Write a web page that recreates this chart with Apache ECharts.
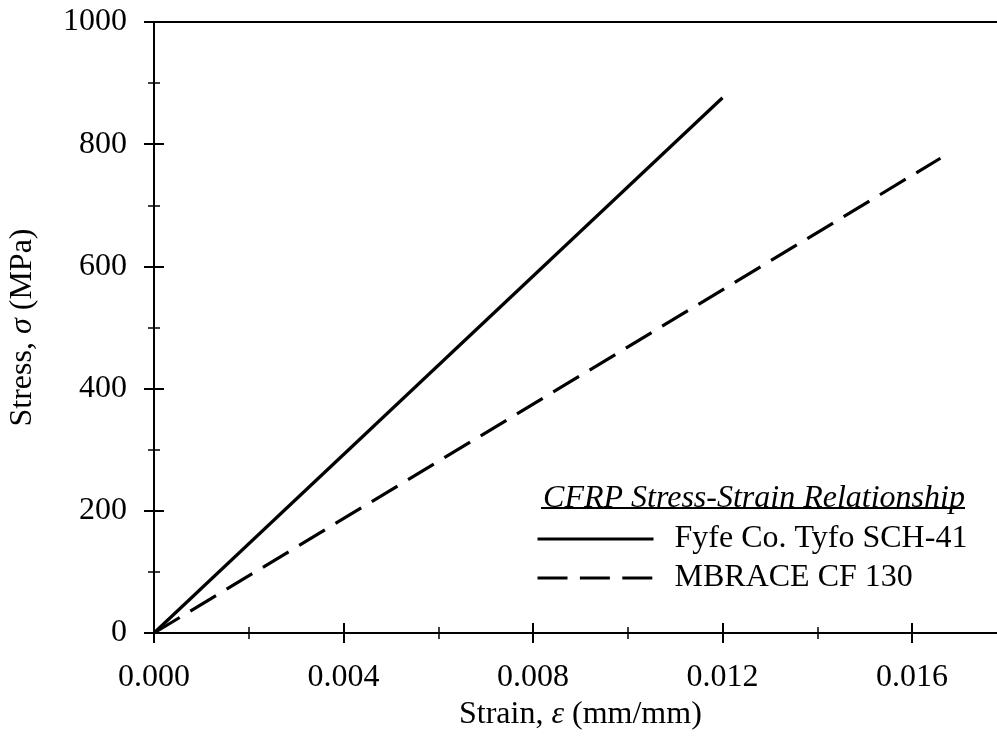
<!DOCTYPE html>
<html>
<head>
<meta charset="utf-8">
<script src="https://cdn.jsdelivr.net/npm/echarts@6/dist/echarts.min.js"></script>
<style>
  html, body { margin: 0; padding: 0; background: #fff; }
  #chart { width: 997px; height: 745px; }
</style>
</head>
<body>
<div id="chart"></div>
<script>
// CFRP material properties: strain (mm/mm) vs stress (MPa), linear to rupture
const seriesNames = ['Fyfe Co. Tyfo SCH-41', 'MBRACE CF 130'];
const fyfeStrain = [0, 0.0120];
const fyfeStress = [0, 876];
const mbraceStrain = [0, 0.0166];
const mbraceStress = [0, 777];
const legendTitle = 'CFRP Stress-Strain Relationship';

const FONT = 'Liberation Serif';
const fs = 32;

const pairs = (xs, ys) => xs.map((x, i) => [x, ys[i]]);

const chart = echarts.init(document.getElementById('chart'));

const xBase = {
  type: 'value', min: 0, max: 0.018, interval: 0.004,
  splitLine: { show: false },
  axisLine: { show: true, lineStyle: { color: '#000', width: 2 } },
  minorTick: { show: true, splitNumber: 2, length: 6, lineStyle: { color: '#000', width: 1.5 } },
  axisTick: { length: 10, lineStyle: { color: '#000', width: 2 } }
};
const yBase = {
  type: 'value', min: 0, max: 1000, interval: 200,
  splitLine: { show: false },
  axisLine: { show: true, lineStyle: { color: '#000', width: 2 } },
  minorTick: { show: true, splitNumber: 2, length: 6, lineStyle: { color: '#000', width: 1.5 } },
  axisTick: { length: 10, lineStyle: { color: '#000', width: 2 } }
};

chart.setOption({
  animation: false,
  backgroundColor: '#fff',
  // plot area runs past the right edge of the canvas (axis ends at 0.018)
  grid: { left: 154, top: 22, height: 611, width: 852.75, outerBoundsMode: 'none', containLabel: false },
  title: {
    text: legendTitle,
    left: 749, top: 478, textAlign: 'center',
    textStyle: { fontFamily: FONT, fontSize: fs, fontStyle: 'italic', fontWeight: 'normal', color: '#000' }
  },
  graphic: [
    { type: 'line', shape: { x1: 541, y1: 508, x2: 965, y2: 508 }, style: { stroke: '#000', lineWidth: 2 } }
  ],
  legend: {
    orient: 'vertical', left: 531, top: 518,
    itemWidth: 116, itemHeight: 14, itemGap: 7,
    itemStyle: { opacity: 0 },
    lineStyle: { width: 3 },
    textStyle: { fontFamily: FONT, fontSize: fs, color: '#000', padding: [0, 0, 0, 16] },
    data: seriesNames
  },
  xAxis: [
    Object.assign({}, xBase, {
      name: '{a|Strain, }{e|ε}{a| (mm/mm)}',
      nameLocation: 'middle', nameGap: 66,
      nameTextStyle: { rich: {
        a: { fontFamily: FONT, fontSize: fs, color: '#000' },
        e: { fontFamily: FONT, fontSize: fs, fontStyle: 'italic', color: '#000' }
      } },
      axisTick: Object.assign({}, xBase.axisTick, { inside: false }),
      axisLabel: { fontFamily: FONT, fontSize: fs, color: '#000', margin: 29,
        showMaxLabel: false, formatter: v => v.toFixed(3) }
    }),
    Object.assign({}, xBase, {
      position: 'bottom', axisLabel: { show: false },
      axisTick: Object.assign({}, xBase.axisTick, { inside: true })
    }),
    { type: 'value', min: 0, max: 0.018, position: 'top',
      axisLine: { show: true, lineStyle: { color: '#000', width: 2 } },
      axisTick: { show: false }, axisLabel: { show: false }, splitLine: { show: false } }
  ],
  yAxis: [
    Object.assign({}, yBase, {
      name: '{a|Stress, }{s|σ}{a| (MPa)}',
      nameLocation: 'middle', nameGap: 115, nameRotate: 90,
      nameTextStyle: { rich: {
        a: { fontFamily: FONT, fontSize: fs, color: '#000' },
        s: { fontFamily: FONT, fontSize: fs, fontStyle: 'italic', color: '#000' }
      } },
      axisTick: Object.assign({}, yBase.axisTick, { inside: false }),
      axisLabel: { fontFamily: FONT, fontSize: fs, color: '#000', margin: 27,
        formatter: v => String(v) }
    }),
    Object.assign({}, yBase, {
      position: 'left', offset: 0, axisLabel: { show: false },
      axisTick: Object.assign({}, yBase.axisTick, { inside: true })
    })
  ],
  series: [
    { name: seriesNames[0], type: 'line', showSymbol: false, symbol: 'none',
      xAxisIndex: 0, yAxisIndex: 0,
      lineStyle: { color: '#000', width: 3.2 }, itemStyle: { color: '#000' },
      data: pairs(fyfeStrain, fyfeStress) },
    { name: seriesNames[1], type: 'line', showSymbol: false, symbol: 'none',
      xAxisIndex: 0, yAxisIndex: 0,
      lineStyle: { color: '#000', width: 3.2, type: [30, 12.4] }, itemStyle: { color: '#000' },
      data: pairs(mbraceStrain, mbraceStress) }
  ]
});
</script>
</body>
</html>
